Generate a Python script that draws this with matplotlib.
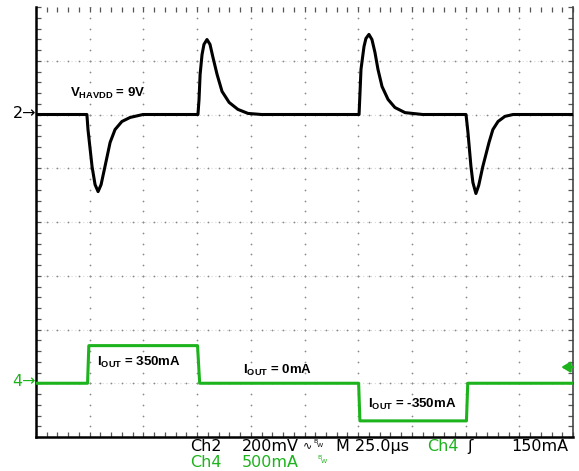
import numpy as np
import matplotlib
matplotlib.use("Agg")
import matplotlib.pyplot as plt

# ---------------- data ----------------
# Ch2: V_HAVDD ripple, time in µs, deviation from 9 V baseline in mV
v_t = [0, 23.7, 24.2, 26.1, 27.5, 28.9, 30.3, 32.1, 34.5, 36.8, 40.0, 43.8, 49.8,
       75.4, 75.9, 76.4, 77.3, 78.2, 79.6, 81.0, 82.4, 84.3, 86.6, 89.9, 94.0, 98.7, 105,
       150.4, 150.8, 151.3, 152.7, 153.6, 155.0, 156.4, 157.8, 159.2, 161.1, 163.9, 167.1, 171.8, 180,
       200.2, 201.1, 202.5, 203.4, 204.8, 206.1, 208.0, 210.9, 212.7, 215.1, 218.3, 222.1, 250]
v_mV = [0, 0, -56, -194, -261, -287, -261, -194, -104, -56, -26, -11, 0,
        0, 56, 149, 223, 261, 279, 261, 212, 149, 86, 45, 19, 4, 0,
        0, 74, 168, 253, 283, 298, 279, 231, 168, 104, 56, 26, 7, 0,
        0, -67, -194, -253, -294, -264, -194, -104, -56, -26, -7, 0, 0]

# Ch4: load current, time in µs, current in mA
i_t = [0, 24.0, 24.6, 75.2, 76.2, 150.2, 150.8, 200.4, 201.0, 250]
i_mA = [0, 0, 350, 350, 0, 0, -350, -350, 0, 0]

ch2_scale_mV = 200      # mV/div
ch4_scale_mA = 500      # mA/div
time_scale_us = 25.0    # µs/div
ch2_offset_div = 2
ch4_offset_div = -3
trig_level_mA = 150

labels = {
    "vhavdd": r"$\mathbf{V_{HAVDD}}$ = 9V",
    "i350": r"$\mathbf{I_{OUT}}$ = 350mA",
    "i0": r"$\mathbf{I_{OUT}}$ = 0mA",
    "im350": r"$\mathbf{I_{OUT}}$ = -350mA",
}

GREEN = "#1db31d"

plt.rcParams["mathtext.fontset"] = "custom"
plt.rcParams["mathtext.bf"] = "Liberation Sans:bold"
plt.rcParams["mathtext.rm"] = "Liberation Sans"

W, H = 579, 471
fig = plt.figure(figsize=(W / 100, H / 100), dpi=100)
fig.patch.set_facecolor("white")

L, R, T, B = 36, 573, 7, 437
ax = fig.add_axes([L / W, 1 - B / H, (R - L) / W, (B - T) / H])
ax.set_xlim(0, 10 * time_scale_us)
ax.set_ylim(-4, 4)

# graticule dots
gx_major = np.arange(1, 10) * time_scale_us
gy_minor = np.arange(-4, 4.001, 0.2)
gx_minor = np.arange(0, 10 * time_scale_us + 0.01, time_scale_us / 5)
gy_major = np.arange(-3, 4)
XX, YY = np.meshgrid(gx_major, gy_minor)
ax.scatter(XX.ravel(), YY.ravel(), s=1.6, c="#8a8a8a", linewidths=0, zorder=1)
XX, YY = np.meshgrid(gx_minor, gy_major)
ax.scatter(XX.ravel(), YY.ravel(), s=1.6, c="#8a8a8a", linewidths=0, zorder=1)
for y in gy_major:
    ax.axhline(y, color="#d8d8d8", lw=0.8, ls=(0, (1, 2.5)), zorder=0.5)

# traces
v_div = [ch2_offset_div + v / ch2_scale_mV for v in v_mV]
i_div = [ch4_offset_div + i / ch4_scale_mA for i in i_mA]
ax.plot(v_t, v_div, color="black", lw=2.2, zorder=3, solid_joinstyle="round")
ax.plot(i_t, i_div, color=GREEN, lw=2.2, zorder=3, solid_joinstyle="round")

# spines & ticks
ax.spines["top"].set_visible(False)
ax.spines["left"].set_linewidth(1.8)
ax.spines["bottom"].set_linewidth(1.8)
ax.spines["right"].set_linewidth(1.2)
ax.spines["right"].set_color("#444444")
ax.set_xticks(np.arange(0, 251, time_scale_us))
ax.set_xticks(gx_minor, minor=True)
ax.set_yticks(np.arange(-4, 5, 1))
ax.set_yticks(gy_minor, minor=True)
ax.tick_params(which="both", direction="in", top=True, right=True, bottom=True, left=True,
               length=3.5, width=0.9, color="#555555",
               labelbottom=False, labelleft=False, labeltop=False, labelright=False)

# trigger level arrow (right)
trig_y = ch4_offset_div + trig_level_mA / ch4_scale_mA
ax.annotate("", xy=(244.5, trig_y), xytext=(250, trig_y),
            arrowprops=dict(arrowstyle="-|>,head_length=0.5,head_width=0.3",
                            color=GREEN, lw=1.8, shrinkA=0, shrinkB=0),
            annotation_clip=False, zorder=4)

def px(x, y):
    return x / W, 1 - y / H

# in-plot labels
lab_kw = dict(fontfamily="Liberation Sans", fontweight="bold", fontsize=9.5,
              color="black", va="baseline", ha="left")
fig.text(*px(70, 97), labels["vhavdd"], **lab_kw)
fig.text(*px(97, 366), labels["i350"], **lab_kw)
fig.text(*px(243, 374), labels["i0"], **lab_kw)
fig.text(*px(368, 408), labels["im350"], **lab_kw)

# channel ground markers
mk_kw = dict(fontfamily="DejaVu Sans", fontsize=11.5, va="center", ha="right")
fig.text(*px(36, 114), "2→", color="black", **mk_kw)
fig.text(*px(36, 382), "4→", color=GREEN, **mk_kw)

# bottom readout
small = dict(fontfamily="DejaVu Sans", fontsize=4.5, va="baseline", ha="left")
ro = dict(fontfamily="DejaVu Sans", fontsize=11.5, va="baseline", ha="left")
fig.text(*px(190, 451), "Ch2", color="black", **ro)
fig.text(*px(242, 451), "200mV", color="black", **ro)
fig.text(*px(303, 448), "∿", color="black", fontfamily="DejaVu Sans", fontsize=8,
         va="baseline", ha="left")
fig.text(*px(313, 443), "B", color="black", **small)
fig.text(*px(317, 447), "W", color="black", **small)
fig.text(*px(336, 451), "M 25.0µs", color="black", **ro)
fig.text(*px(427, 451), "Ch4", color=GREEN, **ro)
fig.text(*px(467, 451), "ʃ", color="black", fontfamily="DejaVu Sans", fontsize=11.5,
         va="baseline", ha="left")
fig.text(*px(568, 451), "150mA", color="black", fontfamily="DejaVu Sans", fontsize=11.5,
         va="baseline", ha="right")
fig.text(*px(190, 467), "Ch4", color=GREEN, **ro)
fig.text(*px(242, 467), "500mA", color=GREEN, **ro)
fig.text(*px(317, 459), "B", color=GREEN, **small)
fig.text(*px(321, 463), "W", color=GREEN, **small)

fig.savefig("out.png", dpi=100, facecolor="white")
